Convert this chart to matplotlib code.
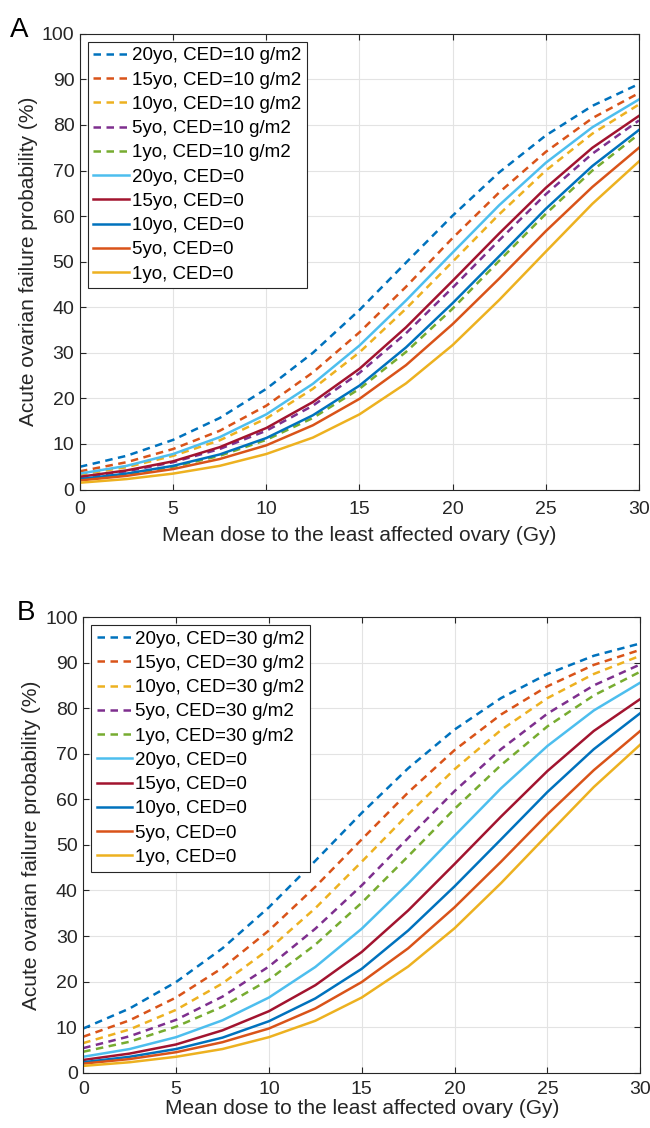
import matplotlib
matplotlib.use('Agg')
import matplotlib.pyplot as plt

plt.rcParams['font.family'] = ['Liberation Sans', 'DejaVu Sans']

# dose grid (Gy)
dose = [0, 2.5, 5, 7.5, 10, 12.5, 15, 17.5, 20, 22.5, 25, 27.5, 30]

# CED = 0 (same in both panels)
ced0_20 = [3.5, 5.2, 7.8, 11.5, 16.5, 23.2, 31.6, 41.5, 52.0, 62.4, 71.7, 79.5, 85.6]
ced0_15 = [2.8, 4.2, 6.2, 9.3, 13.5, 19.2, 26.5, 35.6, 45.8, 56.2, 66.2, 75.0, 82.0]
ced0_10 = [2.3, 3.5, 5.2, 7.7, 11.3, 16.3, 22.8, 31.2, 40.9, 51.2, 61.6, 71.0, 78.9]
ced0_5 = [2.0, 3.0, 4.5, 6.7, 9.7, 14.1, 19.9, 27.3, 36.3, 46.3, 56.7, 66.4, 75.0]
ced0_1 = [1.5, 2.3, 3.5, 5.2, 7.8, 11.4, 16.5, 23.3, 31.7, 41.6, 52.2, 62.7, 72.0]

# CED = 10 g/m2 (panel A)
ced10_20 = [5.0, 7.4, 10.9, 15.7, 22.1, 30.0, 39.4, 49.8, 60.1, 69.6, 77.7, 84.2, 89.0]
ced10_15 = [4.0, 6.0, 8.9, 12.9, 18.4, 25.7, 34.5, 44.5, 55.2, 65.2, 74.1, 81.5, 87.0]
ced10_10 = [3.3, 4.9, 7.4, 10.8, 15.6, 22.1, 30.1, 39.7, 50.0, 60.4, 70.0, 78.1, 84.5]
ced10_5 = [2.7, 4.0, 6.0, 8.9, 12.9, 18.4, 25.6, 34.3, 44.3, 54.7, 64.8, 73.7, 81.0]
ced10_1 = [2.2, 3.3, 5.0, 7.4, 10.9, 15.7, 22.1, 30.2, 39.7, 50.2, 60.5, 70.0, 78.0]

# CED = 30 g/m2 (panel B)
ced30_20 = [9.7, 14.1, 19.9, 27.3, 36.3, 46.5, 57.0, 66.8, 75.3, 82.2, 87.5, 91.5, 94.2]
ced30_15 = [7.9, 11.5, 16.5, 23.0, 31.2, 40.8, 51.2, 61.5, 70.8, 78.6, 84.8, 89.5, 92.8]
ced30_10 = [6.5, 9.5, 13.8, 19.6, 27.1, 36.1, 46.3, 56.7, 66.6, 75.2, 82.2, 87.5, 91.5]
ced30_5 = [5.4, 8.0, 11.6, 16.7, 23.3, 31.6, 41.1, 51.5, 61.8, 71.0, 78.8, 85.0, 89.6]
ced30_1 = [4.6, 6.8, 10.1, 14.5, 20.4, 28.1, 37.3, 47.5, 57.9, 67.5, 76.0, 82.8, 88.0]

ages = ['20yo', '15yo', '10yo', '5yo', '1yo']
dash_colors = ['#0072BD', '#D95319', '#EDB120', '#7E2F8E', '#77AC30']
solid_colors = ['#4DBEEE', '#A2142F', '#0072BD', '#D95319', '#EDB120']

solid = [ced0_20, ced0_15, ced0_10, ced0_5, ced0_1]
dashed_a = [ced10_20, ced10_15, ced10_10, ced10_5, ced10_1]
dashed_b = [ced30_20, ced30_15, ced30_10, ced30_5, ced30_1]

fig = plt.figure(figsize=(6.5, 11.28), dpi=100)


def draw_panel(ax, dashed, ced_label, letter, lx, xpad, xlabpad):
    for age, col, y in zip(ages, dash_colors, dashed):
        ax.plot(dose, y, '--', color=col, lw=1.8, dashes=(3.0, 2.2),
                label=f'{age}, CED={ced_label}')
    for age, col, y in zip(ages, solid_colors, solid):
        ax.plot(dose, y, '-', color=col, lw=1.8, label=f'{age}, CED=0')

    ax.set_xlim(0, 30)
    ax.set_ylim(0, 100)
    ax.set_xticks(range(0, 31, 5))
    ax.set_yticks(range(0, 101, 10))
    ax.grid(True, color='#e3e3e3', lw=0.8)
    ax.set_axisbelow(True)
    ax.tick_params(direction='in', length=4, top=True, right=True,
                   labelsize=14, colors='#262626', width=0.8)
    ax.tick_params(axis='x', pad=xpad)
    ax.tick_params(axis='y', pad=4)
    for s in ax.spines.values():
        s.set_color('#262626')
        s.set_linewidth(0.8)
    ax.set_xlabel('Mean dose to the least affected ovary (Gy)', fontsize=15,
                  color='#262626', labelpad=xlabpad)
    ax.set_ylabel('Acute ovarian failure probability (%)', fontsize=15,
                  color='#262626', labelpad=3)
    leg = ax.legend(loc='upper left', fontsize=13.5, handlelength=1.9,
                    handletextpad=0.15, labelspacing=0.38, borderpad=0.3,
                    borderaxespad=0.42, fancybox=False, framealpha=1)
    leg.get_frame().set_edgecolor('#262626')
    leg.get_frame().set_linewidth(0.8)
    ax.text(lx, 0.994, letter, transform=ax.transAxes, fontsize=20,
            va='baseline', ha='left')


ax1 = fig.add_axes([0.123, 0.566, 0.860, 0.404])
draw_panel(ax1, dashed_a, '10 g/m2', 'A', -0.125, 8, 6)

ax2 = fig.add_axes([0.128, 0.049, 0.857, 0.404])
draw_panel(ax2, dashed_b, '30 g/m2', 'B', -0.12, 6, 1)

fig.savefig('out.png', dpi=100)
